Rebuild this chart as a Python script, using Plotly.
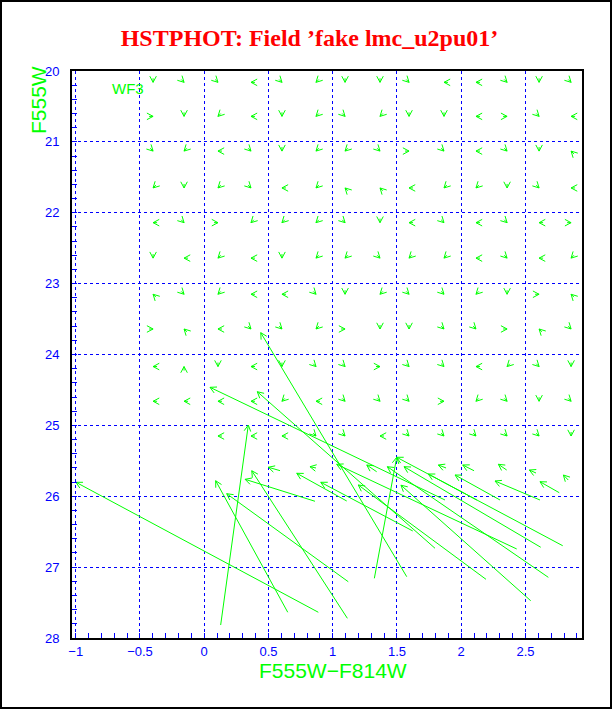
import math
import plotly.graph_objects as go

# ---------------- data ----------------
# input grid of fake stars (small arrows): column colours, row magnitudes
col_x = [-0.398, -0.157, 0.107, 0.364, 0.605, 0.870, 1.096, 1.368,
         1.594, 1.866, 2.115, 2.357, 2.606, 2.855]
row_y = [20.16, 20.64, 21.13, 21.65, 22.14, 22.64, 23.15, 23.64,
         24.17, 24.66, 25.15]
# direction each small arrow points (numpad code: 4=left 6=right 8=up 2=down,
# 7=up-left 9=up-right 1=down-left 3=down-right, . = no star)
dir_rows = [
    "23343122344323",
    "62142131224634",
    "31432113634327",
    "12134177411234",
    "43611132434346",
    "24142113114341",
    "73144321331267",
    "67433162233673",
    "48242336334132",
    "44441433361323",
    "..444334333332",
]

# larger shifts: arrow head (x, y) and tail (x, y)
long_head_x = [-0.998, 0.343, 0.089, 0.175, 0.370, 0.318, 0.720, 0.440, 0.045,
               0.413, 1.498, 1.498, 1.031, 2.613, 2.263, 1.952, 1.744, 0.907,
               1.425, 1.531, 1.199, 1.555,
               0.499, 0.823, 1.265, 1.822, 2.012, 2.289, 2.530, 2.795]
long_head_y = [25.803, 24.995, 25.781, 25.964, 25.640, 25.761, 25.676, 23.692, 24.463,
               24.525, 25.450, 25.450, 25.549, 25.795, 25.785, 25.700, 25.686, 25.803,
               25.583, 25.844, 25.841, 25.583,
               25.591, 25.583, 25.559, 25.559, 25.559, 25.549, 25.630, 25.700]
long_tail_x = [0.888, 0.128, 0.650, 1.121, 1.114, 0.862, 1.109, 1.576, 1.874,
               1.796, 1.324, 2.790, 2.432, 2.763, 2.613, 2.302, 2.121, 1.623,
               2.678, 2.541, 2.193, 2.619,
               0.590, 0.870, 1.342, 1.882, 2.100, 2.354, 2.582, 2.833]
long_tail_y = [27.637, 27.817, 27.637, 27.206, 27.722, 26.071, 26.067, 27.135, 26.053,
               26.734, 27.158, 26.698, 26.744, 25.950, 26.053, 26.053, 26.053, 26.490,
               27.144, 27.474, 27.172, 26.720,
               25.639, 25.601, 25.654, 25.601, 25.640, 25.630, 25.672, 25.771]

x_tick_vals = [-1, -0.5, 0, 0.5, 1, 1.5, 2, 2.5]
y_tick_vals = [20, 21, 22, 23, 24, 25, 26, 27, 28]

# ---------------- layout geometry ----------------
W, H = 612, 709
ML, MR, MT, MB = 72, 30, 71, 71
XR = [-1.029, 2.940]
YR = [28, 20]
PW = W - ML - MR
PH = H - MT - MB
KX = PW / (XR[1] - XR[0])          # px per colour unit
KY = PH / (YR[0] - YR[1])          # px per magnitude

GREEN = "#00ff00"
BLUE = "#0000ff"

HEAD_LEN = 7.0      # px
HEAD_ANG = math.radians(28)
SHAFT = 4.0         # px for the tiny arrows

DIRS = {"4": (-1, 0), "6": (1, 0), "8": (0, -1), "2": (0, 1),
        "7": (-1, -1), "9": (1, -1), "1": (-1, 1), "3": (1, 1)}

xs, ys = [], []


def add_arrow(hx, hy, ux, uy, shaft_px):
    """ux, uy: unit direction (pixel space, y down) the arrow points."""
    tx = hx - ux * shaft_px / KX
    ty = hy - uy * shaft_px / KY
    xs.extend([tx, hx, None])
    ys.extend([ty, hy, None])
    pts = []
    for s in (1, -1):
        c, si = math.cos(s * HEAD_ANG), math.sin(s * HEAD_ANG)
        rx = ux * c - uy * si
        ry = ux * si + uy * c
        pts.append((hx - rx * HEAD_LEN / KX, hy - ry * HEAD_LEN / KY))
    xs.extend([pts[0][0], hx, pts[1][0], None])
    ys.extend([pts[0][1], hy, pts[1][1], None])


for ri, row in enumerate(dir_rows):
    for ci, ch in enumerate(row):
        if ch == ".":
            continue
        dx, dy = DIRS[ch]
        n = math.hypot(dx, dy)
        add_arrow(col_x[ci], row_y[ri], dx / n, dy / n, SHAFT)

for hx, hy, tx, ty in zip(long_head_x, long_head_y, long_tail_x, long_tail_y):
    px = (hx - tx) * KX
    py = (hy - ty) * KY
    n = math.hypot(px, py)
    add_arrow(hx, hy, px / n, py / n, n)

fig = go.Figure()
fig.add_trace(go.Scatter(x=xs, y=ys, mode="lines",
                         line=dict(color=GREEN, width=1),
                         hoverinfo="skip", showlegend=False))

axis_common = dict(
    showline=True, linecolor="black", linewidth=2, mirror=True,
    ticks="inside", tickcolor=BLUE, ticklen=5, tickwidth=1,
    tickfont=dict(family="Liberation Sans, Arial, sans-serif", size=13, color=BLUE),
    showgrid=True, gridcolor=BLUE, gridwidth=1, griddash="dot",
    zeroline=False,
)

fig.update_xaxes(range=XR, tickvals=x_tick_vals,
                 ticktext=[("%g" % v).replace("-", "\u2212") for v in x_tick_vals],
                 minor=dict(dtick=0.1, tick0=-1, ticks="inside", ticklen=5,
                            tickcolor=BLUE, showgrid=False),
                 ticklabelstandoff=0, **axis_common)
fig.update_yaxes(range=YR, tickvals=y_tick_vals,
                 minor=dict(dtick=0.2, tick0=20, ticks="inside", ticklen=5,
                            tickcolor=BLUE, showgrid=False),
                 ticklabelstandoff=8, **axis_common)

fig.update_layout(
    width=W, height=H,
    margin=dict(l=ML, r=MR, t=MT, b=MB, pad=0),
    paper_bgcolor="white", plot_bgcolor="white",
    title=dict(text="<b>HSTPHOT: Field \u2019fake lmc_u2pu01\u2019</b>",
               x=309.5 / W, xanchor="center", y=1 - 38 / H, yanchor="middle",
               font=dict(family="Liberation Serif, Times New Roman, serif",
                         size=24, color="#ff0000")),
    annotations=[
        dict(text="F555W\u2212F814W", xref="paper", yref="paper",
             x=(333 - ML) / PW, y=-(670 - (H - MB)) / PH,
             xanchor="center", yanchor="middle", showarrow=False,
             font=dict(family="Liberation Sans, Arial, sans-serif", size=21, color=GREEN)),
        dict(text="F555W", xref="paper", yref="paper", textangle=-90,
             x=(38 - ML) / PW, y=((H - MB) - 100) / PH,
             xanchor="center", yanchor="middle", showarrow=False,
             font=dict(family="Liberation Sans, Arial, sans-serif", size=21, color=GREEN)),
        dict(text="WF3", xref="x", yref="y", x=-0.592, y=20.24,
             xanchor="center", yanchor="middle", showarrow=False,
             font=dict(family="Liberation Sans, Arial, sans-serif", size=15, color=GREEN)),
    ],
    shapes=[dict(type="rect", xref="paper", yref="paper",
                 x0=-(ML - 1) / PW, x1=1 + (MR - 1) / PW,
                 y0=-(MB - 1) / PH, y1=1 + (MT - 1) / PH,
                 line=dict(color="black", width=2), layer="below")],
)

fig.write_html("out.html",
               config={"displayModeBar": False},
               post_script="document.body.style.margin='0px';"
                           "document.body.style.overflow='hidden';")
